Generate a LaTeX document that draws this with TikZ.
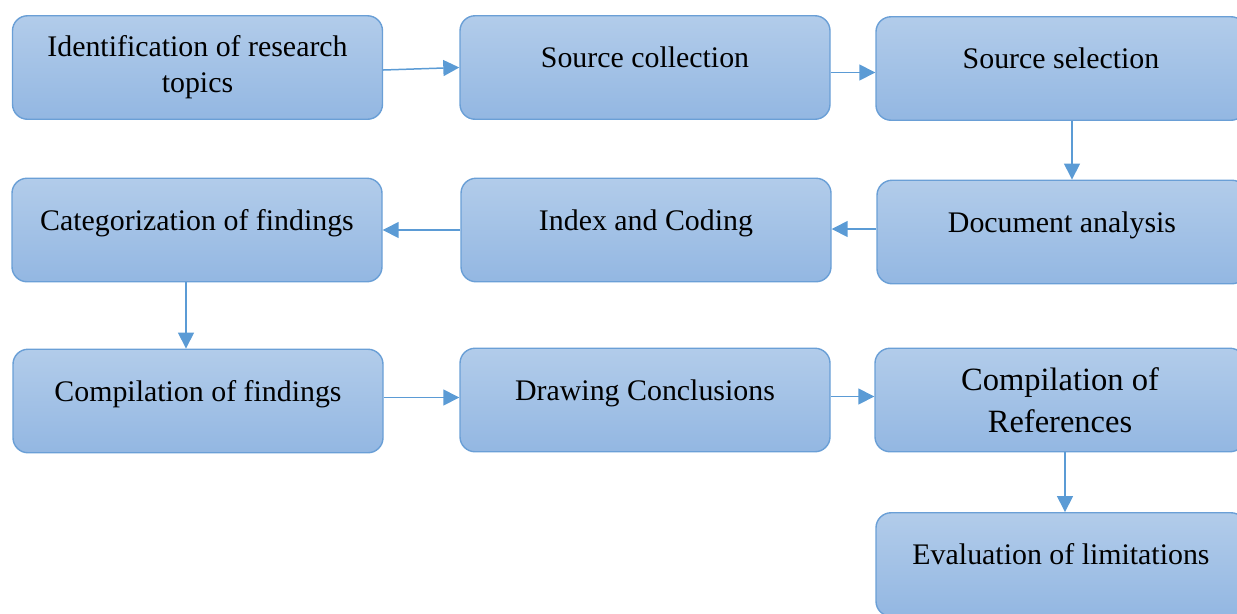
\documentclass[tikz,border=0pt]{standalone}
\usepackage{fontspec}
\setmainfont{Liberation Serif}
\usepackage{xcolor}
\usetikzlibrary{positioning}
\usetikzlibrary{arrows.meta}

\definecolor{boxtop}{HTML}{B2CCEA}
\definecolor{boxbottom}{HTML}{93B7E2}
\definecolor{boxline}{HTML}{6A9FD6}
\definecolor{arrowblue}{HTML}{5B9BD5}

\tikzset{
	stage/.style={draw=boxline,line width=0.8pt,rounded corners=0.3cm,
		top color=boxtop,bottom color=boxbottom,
		minimum width=7.4cm,minimum height=2.07cm,align=center,
		font=\fontsize{17}{20.5}\selectfont},
	oneline/.style={text height=0.45cm,text depth=0.45cm},
	flow/.style={draw=arrowblue,line width=0.85pt,-{Triangle[width=0.32cm,length=0.32cm]}}
}

\begin{document}
\begin{tikzpicture}
		\useasboundingbox (0,0) rectangle (24.74,-12.26);
		%First row
			\path node (ident) at (3.95,-1.35) [stage] {Identification of research\\topics};
			\path node (srccol) at (12.9,-1.35) [stage,oneline] {Source collection};
			\path node (srcsel) at (21.22,-1.37) [stage,oneline] {Source selection};
		%Second row
			\path node (categ) at (3.94,-4.6) [stage,oneline] {Categorization of findings};
			\path node (index) at (12.92,-4.6) [stage,oneline] {Index and Coding};
			\path node (docana) at (21.24,-4.64) [stage,oneline] {Document analysis};
		%Third row
			\path node (compfind) at (3.96,-8.02) [stage,oneline] {Compilation of findings};
			\path node (drawconc) at (12.9,-8.0) [stage,oneline] {Drawing Conclusions};
			\path node (compref) at (21.2,-8.0) [stage,font=\fontsize{18.5}{24}\selectfont] {Compilation of\\References};
		%Last box
			\path node (evallim) at (21.22,-11.29) [stage,oneline] {Evaluation of limitations};
		%Arrows
			\draw[flow] ([yshift=-0.05cm]ident.east) -- (srccol.west);
			\draw[flow] ([yshift=-0.1cm]srccol.east) -- ([yshift=-0.1cm]srccol.east -| srcsel.west);
			\draw[flow] ([xshift=0.22cm]srcsel.south) -- ([xshift=0.22cm]srcsel.south |- docana.north);
			\draw[flow] ([yshift=0.06cm]docana.west) -- ([yshift=0.06cm]docana.west -| index.east);
			\draw[flow] (index.west) -- (index.west -| categ.east);
			\draw[flow] ([xshift=-0.22cm]categ.south) -- ([xshift=-0.22cm]categ.south |- compfind.north);
			\draw[flow] ([yshift=0.07cm]compfind.east) -- ([yshift=0.07cm]compfind.east -| drawconc.west);
			\draw[flow] ([yshift=0.07cm]drawconc.east) -- ([yshift=0.07cm]drawconc.east -| compref.west);
			\draw[flow] ([xshift=0.1cm]compref.south) -- ([xshift=0.1cm]compref.south |- evallim.north);
	\end{tikzpicture}
\end{document}
